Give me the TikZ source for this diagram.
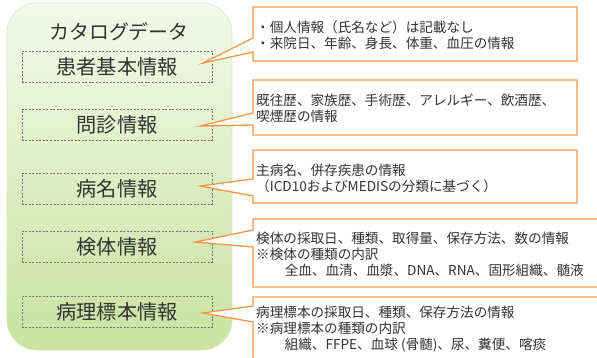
\documentclass[tikz,border=0pt]{standalone}
\usepackage{fontspec}
\setmainfont{Noto Sans CJK JP}
\definecolor{orangeline}{HTML}{F79646}
\definecolor{greentop}{HTML}{F4F9E9}
\definecolor{greenbot}{HTML}{C8E3A0}
\definecolor{txt}{HTML}{333333}
\begin{document}
\begin{tikzpicture}[x=1bp,y=-1bp,
  catalog/.style={rounded corners=30bp, top color=greentop, bottom color=greenbot, draw=greenbot!70!white, line width=0.6bp},
  titletext/.style={inner sep=0, font=\fontsize{20}{24}\selectfont, text=txt},
  field/.style={draw=black!55, dashed, dash pattern=on 2bp off 1.5bp, line width=0.6bp, minimum width=190bp, minimum height=31bp, inner sep=0, font=\fontsize{20.3}{24}\selectfont, text=txt},
  callout/.style={draw=orangeline, line width=1.3bp, fill=white, line join=miter},
  ctext/.style={align=left, inner sep=0, anchor=west, font=\fontsize{13.65}{16.2}\selectfont, text=txt}]
\clip (0,0) rectangle (597,357);
\fill[white] (0,0) rectangle (597,357);
% catalog container
\shade[catalog] (7,3) rectangle (232,350);
\node[titletext] (title) at (119,32) {カタログデータ};
% fields
\node[field] (f1) at (117,66.5) {患者基本情報};
\node[field] (f2) at (117,124.5) {問診情報};
\node[field] (f3) at (117,188.5) {病名情報};
\node[field] (f4) at (117,246.5) {検体情報};
\node[field] (f5) at (117,311.5) {病理標本情報};
% pointer tips
\coordinate (p1) at (203,63);
\coordinate (p2) at (200,126);
\coordinate (p3) at (200,186);
\coordinate (p4) at (195,242);
\coordinate (p5) at (203,313);
% callouts
\draw[callout] (253,7) -- (577,7) -- (577,61) -- (253,61) -- (253,52) -- (p1) -- (253,38) -- cycle;
\draw[callout] (253,80) -- (577,80) -- (577,135) -- (253,135) -- (253,125) -- (p2) -- (253,113) -- cycle;
\draw[callout] (253,150) -- (577,150) -- (577,203) -- (253,203) -- (253,196) -- (p3) -- (253,179) -- cycle;
\draw[callout] (253,219) -- (620,219) -- (620,287) -- (253,287) -- (253,247) -- (p4) -- (253,230) -- cycle;
\draw[callout] (253,297) -- (620,297) -- (620,380) -- (253,380) -- (253,322) -- (p5) -- (253,306) -- cycle;
% callout texts
\node[ctext] (c1) at (256,35) {・個人情報（氏名など）は記載なし\\・来院日、年齢、身長、体重、血圧の情報};
\node[ctext] (c2) at (256,108.5) {既往歴、家族歴、手術歴、アレルギー、飲酒歴、\\喫煙歴の情報};
\node[ctext] (c3) at (256,178.5) {主病名、併存疾患の情報\\（ICD10およびMEDISの分類に基づく）};
\node[ctext] (c4) at (256,254) {検体の採取日、種類、取得量、保存方法、数の情報\\※検体の種類の内訳\\\hspace{2.1em}全血、血清、血漿、DNA、RNA、固形組織、髄液};
\node[ctext] (c5) at (256,329) {病理標本の採取日、種類、保存方法の情報\\※病理標本の種類の内訳\\\hspace{2.1em}組織、FFPE、血球 (骨髄)、尿、糞便、喀痰};
\end{tikzpicture}
\end{document}
